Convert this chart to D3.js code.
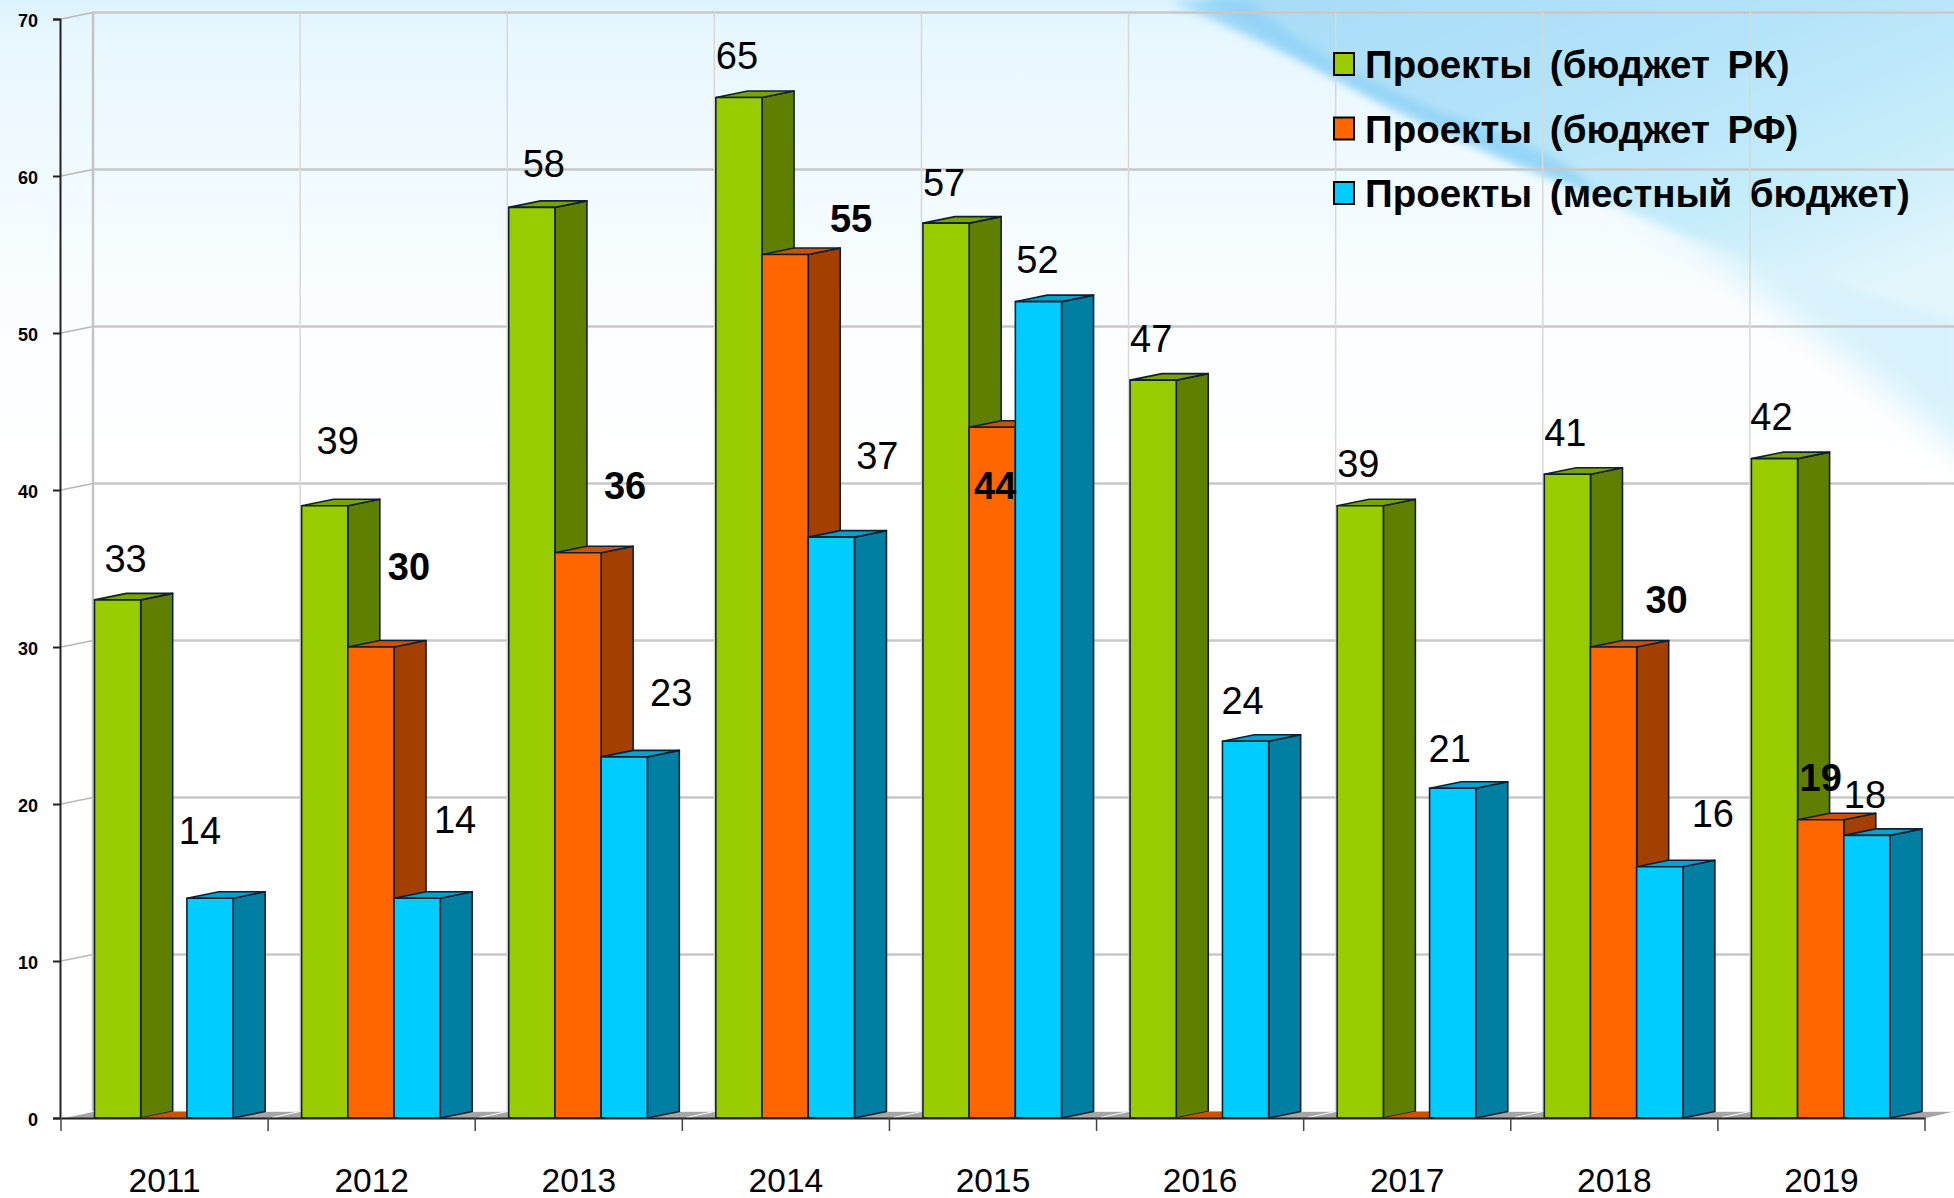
<!DOCTYPE html>
<html>
<head>
<meta charset="utf-8">
<script src="https://cdn.jsdelivr.net/npm/d3@7"></script>
<style>
  html, body { margin: 0; padding: 0; background: #fff; }
  svg { display: block; }
  text { font-family: "Liberation Sans", Arial, sans-serif; fill: #000; }
</style>
</head>
<body>
<div id="chart"></div>
<script>
const years = ["2011","2012","2013","2014","2015","2016","2017","2018","2019"];
const seriesNames = ["Проекты (бюджет РК)", "Проекты (бюджет РФ)", "Проекты (местный бюджет)"];
const budgetRK = [33, 39, 58, 65, 57, 47, 39, 41, 42];
const budgetRF = [0, 30, 36, 55, 44, 0, 0, 30, 19];
const budgetLocal = [14, 14, 23, 37, 52, 24, 21, 16, 18];
const yTicks = [0, 10, 20, 30, 40, 50, 60, 70];

// labels were moved by hand in the original, so each one has its own nudge
const labelNudgeRK = [[8,-42],[13,-65],[12,-44],[-2,-42],[-2,-41],[-2,-42],[-2,-42],[-2,-42],[-3,-42]];
const labelNudgeRF = [null,[38,-81],[47,-67],[66,-36],[3,58],null,null,[53,-48],[0,-42]];
const labelNudgeLocal = [[-10,-68],[38,-79],[47,-65],[46,-82],[-1,-42],[-3,-41],[-3,-40],[53,-53],[-2,-41]];

const W = 1954, H = 1198;
const DX = 32, DY = -6.5; // 3d depth
const front = ["#99cc00", "#ff6600", "#00ccff"];
const side = ["#5f7f00", "#a33f00", "#007fa3"];
const topc = ["#7aa300", "#cc5200", "#00a3cc"];

const svg = d3.select("#chart").append("svg").attr("width", W).attr("height", H);

const x = d3.scaleBand().domain(years).range([61, 1925]).paddingInner(0).paddingOuter(0);
const y = d3.scaleLinear().domain([0, 70]).range([1118, 19]);
const inner = d3.scaleBand().domain([0, 1, 2]).range([33.5, x.bandwidth() - 35]);

// background
const defs = svg.append("defs");
const bg = defs.append("linearGradient").attr("id", "bg").attr("x1", 0).attr("y1", 0).attr("x2", 0).attr("y2", 1);
bg.append("stop").attr("offset", 0).attr("stop-color", "#dcf3fd");
bg.append("stop").attr("offset", 0.03).attr("stop-color", "#e8f7fe");
bg.append("stop").attr("offset", 0.16).attr("stop-color", "#f2fbff");
bg.append("stop").attr("offset", 0.3).attr("stop-color", "#fdfeff");
bg.append("stop").attr("offset", 0.4).attr("stop-color", "#ffffff");
const sw1 = defs.append("linearGradient").attr("id", "sw1").attr("x1", 0.1).attr("y1", 0).attr("x2", 0.9).attr("y2", 0.85);
sw1.append("stop").attr("offset", 0).attr("stop-color", "#a6dcf7");
sw1.append("stop").attr("offset", 0.45).attr("stop-color", "#b4e3f9");
sw1.append("stop").attr("offset", 0.75).attr("stop-color", "#c6ecfa");
sw1.append("stop").attr("offset", 1).attr("stop-color", "#e2f6fc");
const soft = defs.append("filter").attr("id", "soft").attr("x", "-10%").attr("y", "-10%").attr("width", "120%").attr("height", "120%");
soft.append("feGaussianBlur").attr("stdDeviation", 5);
const softer = defs.append("filter").attr("id", "softer").attr("x", "-20%").attr("y", "-20%").attr("width", "140%").attr("height", "140%");
softer.append("feGaussianBlur").attr("stdDeviation", 16);

svg.append("rect").attr("width", W).attr("height", H).attr("fill", "url(#bg)");
// wide pale band under the swoosh
svg.append("path").attr("d", "M1620,190 L1980,240 L1980,470 C1880,380 1770,300 1620,190 Z")
  .attr("fill", "#d8f2fb").attr("filter", "url(#softer)");
svg.append("path").attr("d", "M1171,-20 L1990,-20 L1990,330 L1954,322 C1860,290 1790,270 1726,250 C1660,225 1600,200 1536,173 C1460,140 1395,115 1334,77 Z")
  .attr("fill", "url(#sw1)").attr("filter", "url(#soft)");
// darker streak along the edge
svg.append("path").attr("d", "M1171,0 L1250,0 C1300,50 1400,100 1480,125 C1530,145 1570,160 1600,195 C1530,170 1460,140 1334,77 Z")
  .attr("fill", "#8ed2f6").attr("opacity", 0.8).attr("filter", "url(#soft)");

// walls and grid
const grid = svg.append("g").attr("fill", "none");
yTicks.forEach(t => {
  if (t > 0) {
    grid.append("line").attr("x1", x.range()[0] + DX).attr("x2", W)
      .attr("y1", y(t) + DY).attr("y2", y(t) + DY)
      .attr("stroke", "#c8c8c8").attr("stroke-width", 2.5);
    grid.append("line").attr("x1", x.range()[0]).attr("x2", x.range()[0] + DX)
      .attr("y1", y(t)).attr("y2", y(t) + DY)
      .attr("stroke", "#b8b8b8").attr("stroke-width", 1.5);
  }
});
years.forEach(yr => {
  grid.append("line").attr("x1", x(yr) + DX).attr("x2", x(yr) + DX)
    .attr("y1", y(70) + DY).attr("y2", y(0) + DY)
    .attr("stroke", yr === "2011" ? "#c4c4c4" : "#d8d8d8").attr("stroke-width", yr === "2011" ? 2.5 : 1.5);
});

// floor
svg.append("path")
  .attr("d", `M${x.range()[0]},${y(0)} L${x.range()[0] + DX},${y(0) + DY} L${W},${y(0) + DY} L${x.range()[1] + 1},${y(0)} Z`)
  .attr("fill", "#a6a6a6");
years.forEach(yr => {
  svg.append("line").attr("x1", x(yr) + 4).attr("x2", x(yr) + DX)
    .attr("y1", y(0) - 0.5).attr("y2", y(0) + DY)
    .attr("stroke", "#fff").attr("stroke-width", 1);
});
svg.append("line").attr("x1", x.range()[0] + DX).attr("x2", W)
  .attr("y1", y(0) + DY).attr("y2", y(0) + DY).attr("stroke", "#ececec").attr("stroke-width", 1);

// bars, drawn left to right so nearer sides get covered like in the original
const rows = [];
years.forEach((yr, i) => {
  [budgetRK, budgetRF, budgetLocal].forEach((vals, s) => rows.push({ yr, i, s, v: vals[i] }));
});

const barG = svg.append("g").attr("stroke", "#102030").attr("stroke-width", 1.6).attr("stroke-linejoin", "round");
rows.forEach(d => {
  const x0 = x(d.yr) + inner(d.s), x1 = x0 + inner.bandwidth();
  const yt = y(d.v), yb = y(0);
  if (d.v === 0) {
    barG.append("path")
      .attr("d", `M${x0},${yb} L${x1},${yb} L${x1 + DX},${yb + DY} L${x0 + DX},${yb + DY} Z`)
      .attr("fill", topc[d.s]).attr("stroke", "none");
    return;
  }
  barG.append("path")
    .attr("d", `M${x1},${yb} L${x1 + DX},${yb + DY} L${x1 + DX},${yt + DY} L${x1},${yt} Z`)
    .attr("fill", side[d.s]);
  barG.append("path")
    .attr("d", `M${x0},${yt} L${x1},${yt} L${x1 + DX},${yt + DY} L${x0 + DX},${yt + DY} Z`)
    .attr("fill", topc[d.s]);
  barG.append("rect")
    .attr("x", x0).attr("y", yt).attr("width", inner.bandwidth()).attr("height", yb - yt)
    .attr("fill", front[d.s]);
});

// axes
const axisL = svg.append("g").attr("transform", `translate(${x.range()[0] - 1},0)`)
  .call(d3.axisLeft(y).tickValues(yTicks).tickSize(7).tickPadding(15));
axisL.selectAll("text").attr("font-size", 18).attr("font-weight", "bold").attr("dy", "0.42em");
axisL.selectAll("path, line").attr("stroke", "#222").attr("stroke-width", 2);

const axisB = svg.append("g").attr("transform", `translate(0,${y(0)})`)
  .call(d3.axisBottom(x).tickSize(0).tickPadding(50).tickSizeOuter(0));
axisB.selectAll("text").attr("font-size", 33.5);
axisB.select("path").attr("stroke", "#222").attr("stroke-width", 2);
d3.range(years.length + 1).forEach(i => {
  const tx = x.range()[0] + x.step() * i;
  axisB.append("line").attr("x1", tx).attr("x2", tx).attr("y1", 0).attr("y2", 13)
    .attr("stroke", "#444").attr("stroke-width", 1.5);
});

// data labels
const nudges = [labelNudgeRK, labelNudgeRF, labelNudgeLocal];
rows.forEach(d => {
  const n = nudges[d.s][d.i];
  if (!n) return;
  svg.append("text")
    .attr("x", x(d.yr) + inner(d.s) + inner.bandwidth() / 2 + n[0])
    .attr("y", y(d.v) + n[1])
    .attr("dy", "0.36em")
    .attr("text-anchor", "middle")
    .attr("font-size", 38)
    .attr("font-weight", d.s === 1 ? "bold" : "normal")
    .text(d.v);
});

// legend
const legend = svg.append("g").attr("transform", "translate(1334,0)");
seriesNames.forEach((name, i) => {
  const ly = 64 + i * 64.5;
  legend.append("rect").attr("x", 0).attr("y", ly - 11).attr("width", 20).attr("height", 22)
    .attr("fill", front[i]).attr("stroke", "#000").attr("stroke-width", 2);
  legend.append("text").attr("x", 31).attr("y", ly + 14)
    .attr("font-size", 38.5).attr("font-weight", "bold").attr("word-spacing", 7)
    .text(name);
});
</script>
</body>
</html>
